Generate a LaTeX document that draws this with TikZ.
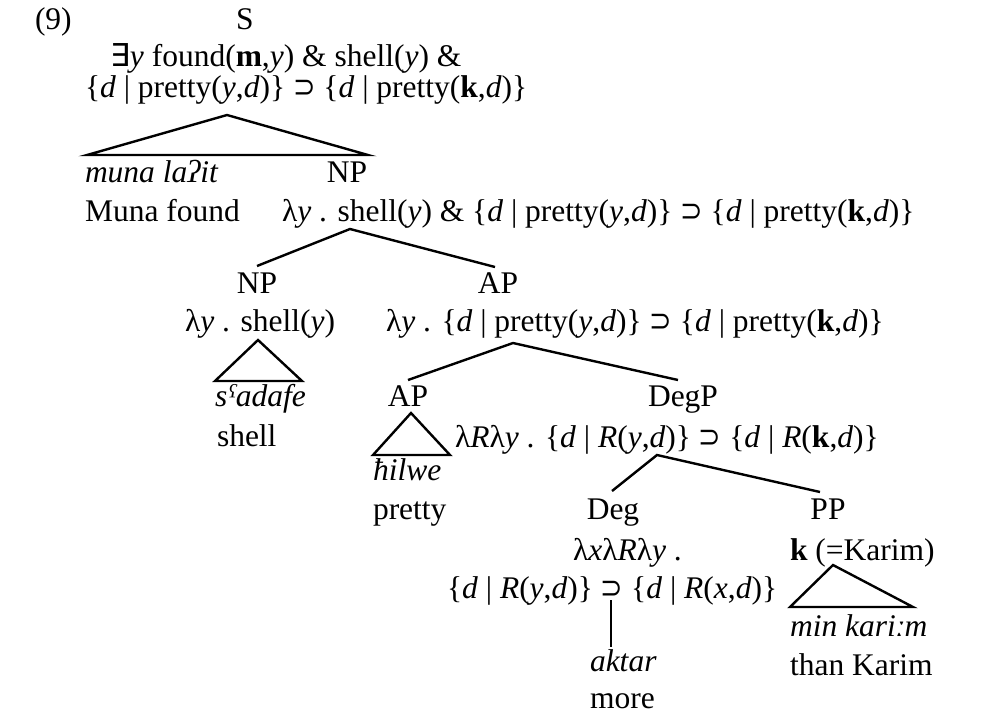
\documentclass[tikz,border=0pt]{standalone}
\usepackage{fontspec}
\setmainfont{Liberation Serif}
\newfontfamily\symf{DejaVu Sans}
\newcommand{\ex}{{\symf ∃}}
\newcommand{\sups}{\scalebox{0.85}[1]{\symf ⊃}}
\newcommand{\lam}{λ}
\begin{document}
\begin{tikzpicture}[x=1pt,y=-1pt,
  lbl/.style={inner sep=0pt, outer sep=0pt, anchor=base west, font=\fontsize{31.5}{36}\selectfont},
  clbl/.style={lbl, anchor=base},
  edge/.style={line width=2.4pt, line join=miter, line cap=butt}]
\useasboundingbox (0,0) rectangle (990,713);
% labels
\node[lbl] (ex) at (35,29) {(9)};
\node[clbl] (S) at (245,29) {S};
\node[lbl] (Ssem1) at (110,66) {\ex\textit{y} found(\textbf{m},\textit{y}) \& shell(\textit{y}) \&};
\node[lbl] (Ssem2) at (85,97) {\{\textit{d} | pretty(\textit{y},\textit{d})\} \sups{} \{\textit{d} | pretty(\textbf{k},\textit{d})\}};
\node[lbl] (muna) at (85,182) {\textit{muna laʔit}};
\node[clbl] (NP1) at (347,182) {NP};
\node[lbl] (munagl) at (85,221) {Muna found};
\node[lbl] (NP1sem) at (282,221) {\lam\textit{y} . shell(\textit{y}) \& \{\textit{d} | pretty(\textit{y},\textit{d})\} \sups{} \{\textit{d} | pretty(\textbf{k},\textit{d})\}};
\node[clbl] (NP2) at (257,293) {NP};
\node[clbl] (AP1) at (498,293) {AP};
\node[lbl] (NP2sem) at (185,331) {\lam\textit{y} . shell(\textit{y})};
\node[lbl] (AP1sem) at (386,331) {\lam\textit{y} . \{\textit{d} | pretty(\textit{y},\textit{d})\} \sups{} \{\textit{d} | pretty(\textbf{k},\textit{d})\}};
\node[lbl] (sadafe) at (215,406) {\textit{sˤadafe}};
\node[lbl] (shell) at (217,446) {shell};
\node[clbl] (AP2) at (408,406) {AP};
\node[clbl] (DegP) at (683,406) {DegP};
\node[lbl] (DegPsem) at (455,447) {\lam\textit{R}\lam\textit{y} . \{\textit{d} | \textit{R}(\textit{y},\textit{d})\} \sups{} \{\textit{d} | \textit{R}(\textbf{k},\textit{d})\}};
\node[lbl] (hilwe) at (373,480) {\textit{ħilwe}};
\node[lbl] (pretty) at (373,519) {pretty};
\node[clbl] (Deg) at (613,519) {Deg};
\node[clbl] (PP) at (828,519) {PP};
\node[lbl] (Degsem1) at (573,560) {\lam\textit{x}\lam\textit{R}\lam\textit{y} .};
\node[lbl] (Degsem2) at (447,598) {\{\textit{d} | \textit{R}(\textit{y},\textit{d})\} \sups{} \{\textit{d} | \textit{R}(\textit{x},\textit{d})\}};
\node[lbl] (PPsem) at (790,560) {\textbf{k} (=Karim)};
\node[lbl] (minkarim) at (790,636) {\textit{min kariːm}};
\node[lbl] (thanKarim) at (790,675) {than Karim};
\node[lbl] (aktar) at (590,671) {\textit{aktar}};
\node[lbl] (more) at (590,708) {more};
% connector points
\coordinate (tS) at (227,115);
\coordinate (tSl) at (87,155);
\coordinate (tSr) at (368,155);
\coordinate (n1) at (350,229);
\coordinate (n1l) at (257,266);
\coordinate (n1r) at (495,267);
\coordinate (tN) at (258,340);
\coordinate (tNl) at (215,381);
\coordinate (tNr) at (302,381);
\coordinate (a1) at (513,343);
\coordinate (a1l) at (408,380);
\coordinate (a1r) at (678,380);
\coordinate (tA) at (411,413);
\coordinate (tAl) at (373,455);
\coordinate (tAr) at (450,455);
\coordinate (d1) at (657,455);
\coordinate (d1l) at (612,491);
\coordinate (d1r) at (820,492);
\coordinate (dg) at (611,600);
\coordinate (dgb) at (611,647);
\coordinate (tP) at (833,565);
\coordinate (tPl) at (790,607);
\coordinate (tPr) at (913,607);
% connectors
\draw[edge] (tSl) -- (tS) -- (tSr) -- cycle;
\draw[edge] (n1l) -- (n1) -- (n1r);
\draw[edge] (tNl) -- (tN) -- (tNr) -- cycle;
\draw[edge] (a1l) -- (a1) -- (a1r);
\draw[edge] (tAl) -- (tA) -- (tAr) -- cycle;
\draw[edge] (d1l) -- (d1) -- (d1r);
\draw[edge] (dg) -- (dgb);
\draw[edge] (tPl) -- (tP) -- (tPr) -- cycle;
\end{tikzpicture}
\end{document}
